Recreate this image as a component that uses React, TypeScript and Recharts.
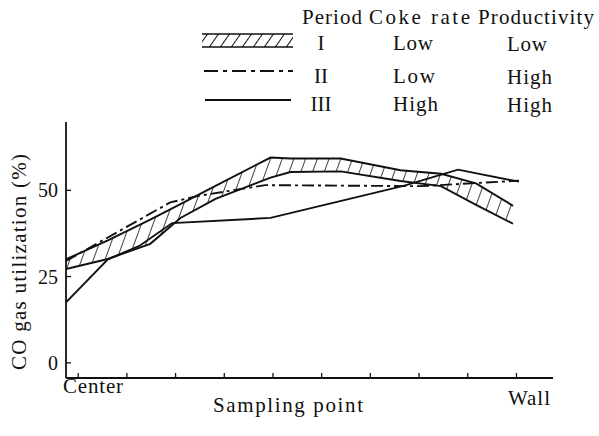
import React from 'react';
import { ComposedChart, Line, Area, XAxis, YAxis } from 'recharts';

// sampling position (0 = centre, 10 = wall)
const bandX = [0, 0.86, 1.73, 2.35, 3.07, 4.2, 4.61, 5.64, 6.87, 7.7, 8.42, 9.18];
const bandUpper = [30, 35.5, 41.5, 46, 51.3, 59.5, 59.2, 59.2, 55.8, 54.8, 52, 45.5];
const bandLower = [27.2, 30.1, 34.5, 42, 47.5, 53.7, 55.3, 55.5, 52.7, 51.2, 45.8, 40.3];

const period2X = [0, 2.14, 2.76, 4.09, 7.28, 9.3];
const period2Y = [29.5, 46.5, 48.5, 51.5, 51.2, 52.8];

const period3X = [0, 0.86, 1.52, 2.18, 4.2, 6.93, 8.05, 9.3];
const period3Y = [17.5, 30, 34, 40.5, 42, 51.3, 56, 52.5];

const xTicks = [0, 0.25, 1.25, 2.25, 3.25, 4.25, 5.25, 6.25, 7.25, 8.25, 9.25, 10];
const yTicks = [0, 25, 50];

const periods = ['I', 'II', 'III'];
const cokeRates = ['Low', 'Low', 'High'];
const productivity = ['Low', 'High', 'High'];

const FONT = '"Liberation Serif", "Times New Roman", serif';

const bandData = bandX.map((x, i) => ({ x, lo: bandLower[i], hi: bandUpper[i], range: [bandLower[i], bandUpper[i]] }));
const p2Data = period2X.map((x, i) => ({ x, v: period2Y[i] }));
const p3Data = period3X.map((x, i) => ({ x, v: period3Y[i] }));

const XTick = (props: any) => {
  const { x, y, payload } = props;
  if (payload.value === 0)
    return <text x={x - 3} y={y + 15} fontFamily={FONT} fontSize={21} fill="#111" textLength={60} lengthAdjust="spacing">Center</text>;
  if (payload.value === 10)
    return <text x={x - 3} y={y + 27} textAnchor="end" fontFamily={FONT} fontSize={21} fill="#111" textLength={42} lengthAdjust="spacing">Wall</text>;
  return <line x1={x} x2={x} y1={y} y2={y - 5} stroke="#111" strokeWidth={1.3} />;
};

const YTick = (props: any) => {
  const { x, y, payload } = props;
  return (
    <g>
      <line x1={x} x2={x + 5} y1={y} y2={y} stroke="#111" strokeWidth={1.3} />
      <text x={x - 8} y={y + 7} textAnchor="end" fontFamily={FONT} fontSize={20} fill="#111">{payload.value}</text>
    </g>
  );
};

const rowY = [50, 83, 111];
const cokeW = [40, 42, 45];
const prodW = [40, 45, 45];

export default function App() {
  return (
    <div style={{ position: 'absolute', left: 0, top: 0, width: 599, height: 436, background: '#fff' }}>
      <ComposedChart width={599} height={436} margin={{ top: 122, right: 46, bottom: 28, left: 6 }}>
        <defs>
          <pattern id="hatch" patternUnits="userSpaceOnUse" width={11} height={11} patternTransform="rotate(20)">
            <line x1={0} y1={0} x2={0} y2={11} stroke="#111" strokeWidth={1.6} />
          </pattern>
        </defs>
        <XAxis
          type="number"
          dataKey="x"
          domain={[0, 10]}
          ticks={xTicks}
          tick={<XTick />}
          tickLine={false}
          tickSize={0}
          tickMargin={0}
          interval={0}
          axisLine={{ stroke: '#111', strokeWidth: 1.8 }}
          allowDataOverflow
        />
        <YAxis
          type="number"
          domain={[-4.4, 69.8]}
          ticks={yTicks}
          tick={<YTick />}
          tickLine={false}
          tickSize={0}
          tickMargin={0}
          width={60}
          interval={0}
          axisLine={{ stroke: '#111', strokeWidth: 1.8 }}
          allowDataOverflow
        />
        <Area data={bandData} dataKey="range" type="linear" fill="url(#hatch)" fillOpacity={1} stroke="none" isAnimationActive={false} />
        <Line data={bandData} dataKey="hi" type="linear" stroke="#111" strokeWidth={1.9} dot={false} isAnimationActive={false} />
        <Line data={bandData} dataKey="lo" type="linear" stroke="#111" strokeWidth={1.9} dot={false} isAnimationActive={false} />
        <Line data={p2Data} dataKey="v" type="linear" stroke="#111" strokeWidth={1.9} strokeDasharray="12 4 3 4" dot={false} isAnimationActive={false} />
        <Line data={p3Data} dataKey="v" type="linear" stroke="#111" strokeWidth={1.9} dot={false} isAnimationActive={false} />
      </ComposedChart>

      <svg width={599} height={436} style={{ position: 'absolute', left: 0, top: 0, pointerEvents: 'none' }}>
        <defs>
          <pattern id="hatchLegend" patternUnits="userSpaceOnUse" width={9} height={9} patternTransform="rotate(35)">
            <line x1={0} y1={0} x2={0} y2={9} stroke="#111" strokeWidth={2} />
          </pattern>
        </defs>
        <g fontFamily={FONT} fontSize={21} fill="#111">
          <text x={302} y={24} textLength={60} lengthAdjust="spacing">Period</text>
          <text x={369} y={24} textLength={101} lengthAdjust="spacing">Coke rate</text>
          <text x={478} y={24} textLength={116} lengthAdjust="spacing">Productivity</text>
          {periods.map((p, i) => (
            <text key={'p' + i} x={321} y={rowY[i]} textAnchor="middle">{p}</text>
          ))}
          {cokeRates.map((c, i) => (
            <text key={'c' + i} x={393} y={rowY[i]} textLength={cokeW[i]} lengthAdjust="spacing">{c}</text>
          ))}
          {productivity.map((c, i) => (
            <text key={'q' + i} x={507} y={rowY[i] + 1} textLength={prodW[i]} lengthAdjust="spacing">{c}</text>
          ))}
          <text x={213} y={412} textLength={150} lengthAdjust="spacing">Sampling point</text>
          <text x={26} y={262} transform="rotate(-90, 26, 262)" textAnchor="middle" textLength={216} lengthAdjust="spacing">CO gas utilization (%)</text>
        </g>
        <rect x={202} y={34} width={91} height={13} fill="url(#hatchLegend)" />
        <line x1={202} x2={293} y1={34} y2={34} stroke="#111" strokeWidth={1.6} />
        <line x1={202} x2={293} y1={47} y2={47} stroke="#111" strokeWidth={1.6} />
        <line x1={204} x2={293} y1={71} y2={71} stroke="#111" strokeWidth={2} strokeDasharray="14 5 4 5" />
        <line x1={205} x2={291} y1={100} y2={100} stroke="#111" strokeWidth={2} />
      </svg>
    </div>
  );
}
